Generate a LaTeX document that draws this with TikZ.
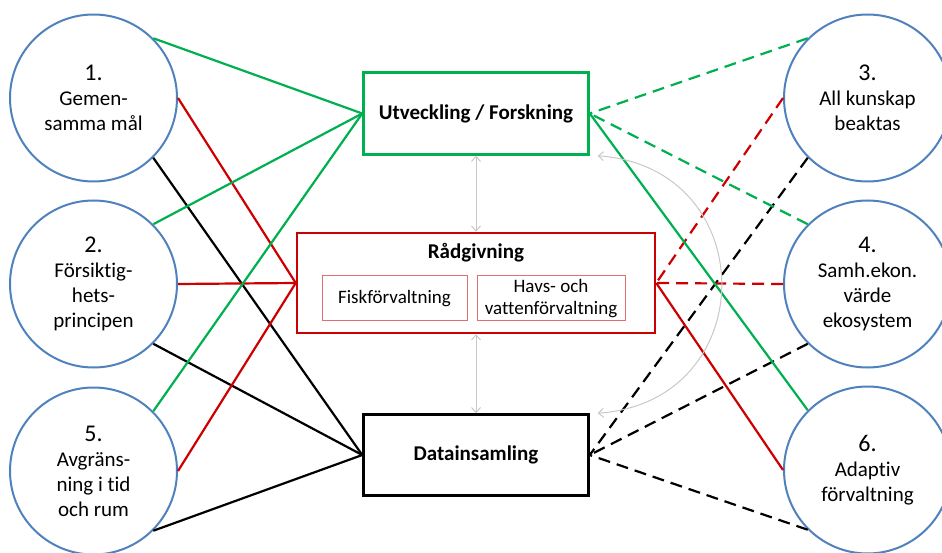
\documentclass[tikz,border=0pt]{standalone}
\usepackage{fontspec}
\setmainfont{Carlito}[Ligatures=NoCommon]
\usepackage{xcolor}
\usepackage{tikz}
\usetikzlibrary{positioning, arrows.meta}
\definecolor{GoalBlue}{HTML}{4F81BD}
\definecolor{LinkGreen}{HTML}{00B050}
\definecolor{LinkRed}{HTML}{CC0000}
\definecolor{SubRed}{HTML}{E07070}
\definecolor{LinkGray}{HTML}{C8C8C8}
\newcommand{\goalnr}[1]{{\fontsize{24}{25}\selectfont #1}}

\begin{document}
\begin{tikzpicture}[x=1pt, y=1pt,
            goal/.style={draw=GoalBlue, line width=2pt, circle, minimum size=167pt, inner sep=0pt, align=center, font=\fontsize{21}{25}\selectfont},
            bigbox/.style={line width=2.5pt, fill=white, minimum width=225pt, minimum height=82pt, font=\bfseries\fontsize{21}{25}\selectfont},
            subbox/.style={draw=SubRed, line width=1pt, minimum height=45pt, inner sep=0pt, align=center, font=\fontsize{19}{22}\selectfont},
            glink/.style={LinkGreen, line width=2.2pt},
            rlink/.style={LinkRed, line width=2.2pt},
            klink/.style={black, line width=2.2pt},
            broken/.style={dash pattern=on 12pt off 7pt},
            both/.style={{Straight Barb[length=5pt,width=9pt]}-{Straight Barb[length=5pt,width=9pt]}, LinkGray, line width=1pt}
        ]
            \useasboundingbox (0,0) rectangle (942,552);

            \node[bigbox, draw=LinkRed, minimum width=358pt, minimum height=100pt] (rad) at (476,269) {};
            \node[font=\bfseries\fontsize{21}{25}\selectfont, inner sep=0pt, below=11pt of rad.north] (radtitle) {Rådgivning};
            \node[subbox, minimum width=145pt] (fisk) at ([shift={(-81.5,-15.5)}]rad.center) {Fiskförvaltning};
            \node[subbox, minimum width=148pt, right=9pt of fisk] (havs) {Havs- och\\vattenförvaltning};
            \node[bigbox, draw=LinkGreen, above=76pt of rad] (ut) {Utveckling / Forskning};
            \node[bigbox, draw=black, minimum height=81pt, below=79pt of rad] (dat) {Datainsamling};

            \node[goal] (c1) at (93.5,454) {\goalnr{1.}\\Gemen-\\samma mål};
            \node[goal] (c2) at (93.5,268) {\goalnr{2.}\\Försiktig-\\hets-\\principen};
            \node[goal] (c5) at (93.5,81) {\goalnr{5.}\\Avgräns-\\ning i tid\\och rum};
            \node[goal] (c3) at (867.5,454) {\goalnr{3.}\\All kunskap\\beaktas};
            \node[goal] (c4) at (867.5,268) {\goalnr{4.}\\Samh.ekon.\\värde\\ekosystem};
            \node[goal] (c6) at (867.5,82) {\goalnr{6.}\\Adaptiv\\förvaltning};

            \draw[glink] (c1.north east) -- (ut.west);
            \draw[rlink] (c1.east) -- (rad.west);
            \draw[klink] (c1.south east) -- (dat.west);
            \draw[glink] (c2.north east) -- (ut.west);
            \draw[rlink] (c2.east) -- (rad.west);
            \draw[klink] (c2.south east) -- (dat.west);
            \draw[glink] (c5.north east) -- (ut.west);
            \draw[rlink] (c5.east) -- (rad.west);
            \draw[klink] (c5.south east) -- (dat.west);

            \draw[glink, broken] (c3.north west) -- (ut.east);
            \draw[rlink, broken] (c3.west) -- (rad.east);
            \draw[klink, broken] (c3.south west) -- (dat.east);
            \draw[glink, broken] (c4.north west) -- (ut.east);
            \draw[rlink, broken] (c4.west) -- (rad.east);
            \draw[klink, broken] (c4.south west) -- (dat.east);
            \draw[glink] (c6.north west) -- (ut.east);
            \draw[rlink] (c6.west) -- (rad.east);
            \draw[klink, broken] (c6.south west) -- (dat.east);

            \draw[both] (ut.south) -- (rad.north);
            \draw[both] (rad.south) -- (dat.north);
            \draw[both] ([xshift=8pt]ut.south east) .. controls +(165,-12) and +(165,12) .. ([xshift=8pt]dat.north east);

        \end{tikzpicture}
\end{document}
